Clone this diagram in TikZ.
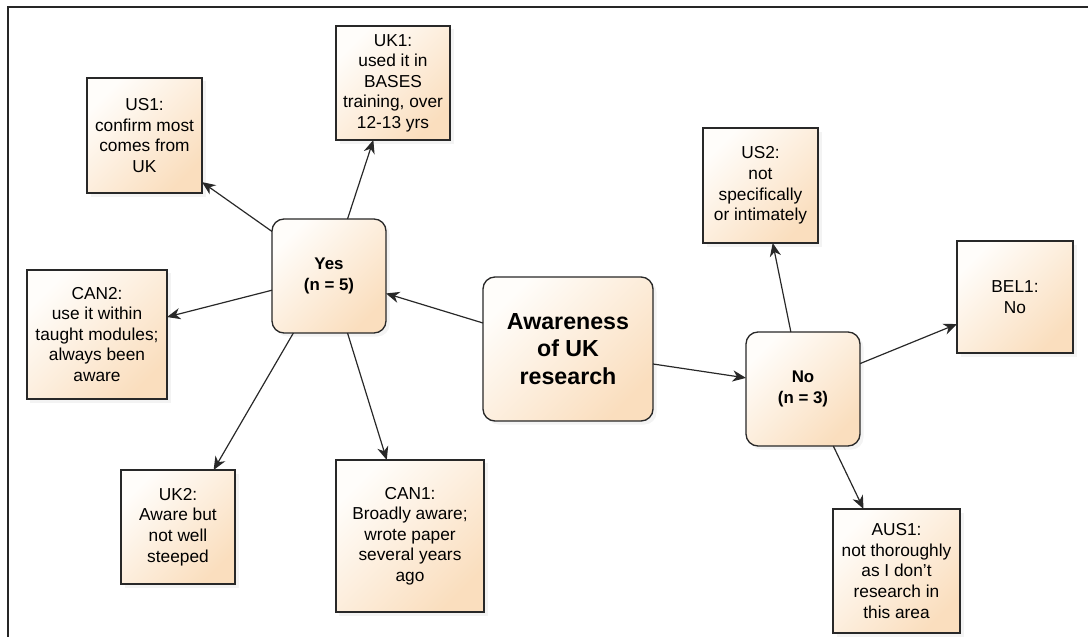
\documentclass[tikz,border=0pt]{standalone}
\usepackage{fontspec}
\setmainfont{Liberation Sans}
\usetikzlibrary{positioning, calc}
\usetikzlibrary{shadows}
\usetikzlibrary{arrows.meta}

\definecolor{boxlight}{RGB}{255,253,250}
\definecolor{boxdark}{RGB}{250,222,190}
\definecolor{edgegray}{RGB}{40,40,40}

\tikzset{
  leaf/.style={draw=edgegray, line width=0.95pt, top color=boxlight, bottom color=boxdark,
    shading angle=45, align=center, inner sep=2pt, outer sep=0pt,
    font=\fontsize{12.3}{14.6}\selectfont,
    drop shadow={shadow xshift=2.5pt, shadow yshift=-2.5pt, fill=black!10, opacity=0.45}},
  hub/.style={leaf, rounded corners=0.3cm, font=\bfseries\fontsize{12}{15}\selectfont},
  link/.style={draw=edgegray, line width=0.85pt, -{Stealth[length=9.5pt,width=8pt,inset=3pt]}}
}

\begin{document}
\begin{tikzpicture}[x=0.025cm, y=-0.025cm]
                \useasboundingbox (0,0) rectangle (1088,637);
                \draw[line width=1.3pt, black!85] (1088,7) -- (8,7) -- (8,637);
                % centre and the two answers
                \node[hub, minimum width=4.25cm, minimum height=3.6cm,
                  font=\bfseries\fontsize{16.5}{19.5}\selectfont] (aware) at (568,349) {Awareness\\of UK\\research};
                \node[hub, minimum size=2.85cm] (yes) at (329,276) {Yes\\(n = 5)};
                \node[hub, minimum size=2.85cm] (no) at (803,389) {No\\(n = 3)};
                % yes answers
                \node[leaf, minimum size=2.875cm] (us1) at (144.5,135.5) {US1:\\confirm most\\comes from\\UK};
                \node[leaf, minimum size=2.85cm] (uk1) at (393,83) {UK1:\\used it in\\BASES\\training, over\\12-13 yrs};
                \node[leaf, minimum width=3.5cm, minimum height=3.225cm] (can2) at (97,334.5) {CAN2:\\use it within\\taught modules;\\always been\\aware};
                \node[leaf, minimum size=2.85cm] (uk2) at (178,527) {UK2:\\Aware but\\not well\\steeped};
                \node[leaf, minimum width=3.7cm, minimum height=3.8cm] (can1) at (410,536) {CAN1:\\Broadly aware;\\wrote paper\\several years\\ago};
                % no answers
                \node[leaf, minimum size=2.875cm] (us2) at (760.5,185.5) {US2:\\not\\specifically\\or intimately};
                \node[leaf, minimum width=2.9cm, minimum height=2.8cm] (bel1) at (1015,297) {BEL1:\\No};
                \node[leaf, minimum width=3.175cm, minimum height=3.1cm] (aus1) at (896.5,571) {AUS1:\\not thoroughly\\as I don't\\research in\\this area};
                % links
                \draw[link] (aware.163) -- (yes.343);
                \draw[link] (aware.350) -- (no.169);
                \draw[link] (yes.142) -- (us1.321);
                \draw[link] (yes.72) -- (uk1.251);
                \draw[link] (yes.194) -- (can2.14);
                \draw[link] (yes.238) -- (uk2.58);
                \draw[link] (yes.288) -- (can1.107);
                \draw[link] (no.102) -- (us2.282);
                \draw[link] (no.24) -- (bel1.205);
                \draw[link] (no.298) -- (aus1.118);
            \end{tikzpicture}
\end{document}
